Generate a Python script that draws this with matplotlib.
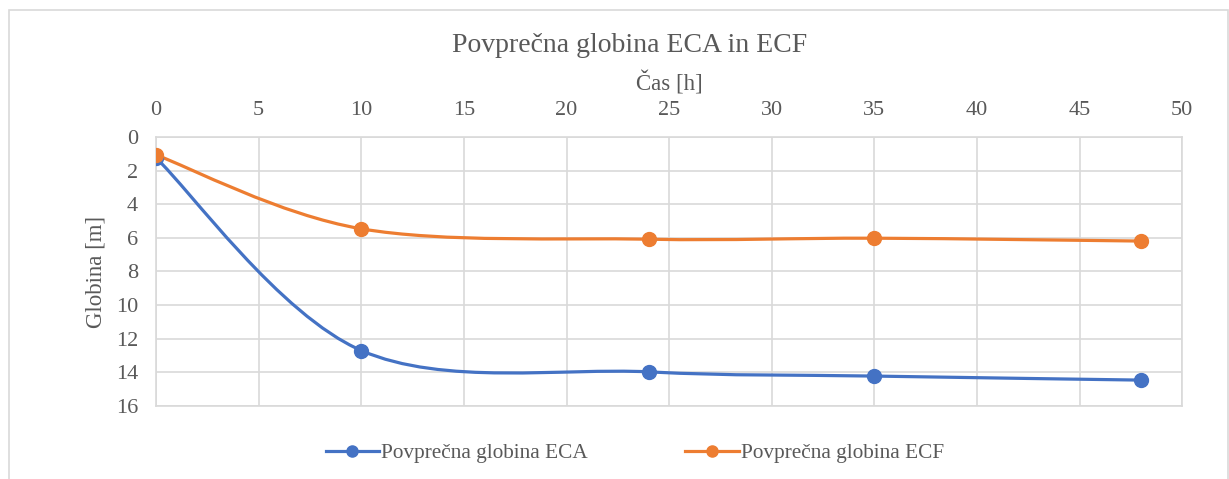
import numpy as np
import matplotlib
matplotlib.use("Agg")
import matplotlib.pyplot as plt
from matplotlib.path import Path
from matplotlib.patches import PathPatch, Rectangle
from matplotlib.lines import Line2D

plt.rcParams['font.family'] = ['Liberation Serif', 'DejaVu Serif']

# data
hours = [0, 10, 24, 35, 48]
eca_depth = [1.25, 12.7, 13.97, 14.22, 14.46]
ecf_depth = [1.07, 5.46, 6.08, 6.02, 6.19]
x_ticks = [0, 5, 10, 15, 20, 25, 30, 35, 40, 45, 50]
y_ticks = [0, 2, 4, 6, 8, 10, 12, 14, 16]

blue = '#4472C4'
orange = '#ED7D31'
grey_txt = '#595959'
grid_col = '#D9D9D9'


def smooth_path(xs, ys):
    # Excel-like smoothed line: cubic bezier segments with catmull-rom tangents
    pts = np.column_stack([xs, ys]).astype(float)
    n = len(pts)
    verts = [pts[0]]
    codes = [Path.MOVETO]
    for i in range(n - 1):
        p0 = pts[i - 1] if i > 0 else pts[i]
        p1 = pts[i]
        p2 = pts[i + 1]
        p3 = pts[i + 2] if i + 2 < n else pts[i + 1]
        c1 = p1 + (p2 - p0) / 6.0
        c2 = p2 - (p3 - p1) / 6.0
        verts += [c1, c2, p2]
        codes += [Path.CURVE4] * 3
    return Path(verts, codes)


fig = plt.figure(figsize=(12.29, 4.79), dpi=100)
ax = fig.add_axes([0.127, 0.1524, 0.8349, 0.5616])

for ys, col in [(eca_depth, blue), (ecf_depth, orange)]:
    ax.add_patch(PathPatch(smooth_path(hours, ys), facecolor='none',
                           edgecolor=col, lw=2.3, capstyle='round', zorder=3))
    ax.plot(hours, ys, linestyle='none', marker='o', ms=10, color=col, zorder=4)

ax.set_xlim(0, 50)
ax.set_ylim(16, 0)
ax.set_xticks(x_ticks)
ax.set_yticks(y_ticks)
ax.xaxis.tick_top()
ax.xaxis.set_label_position('top')
ax.tick_params(length=0, labelsize=16, labelcolor=grey_txt)
ax.tick_params(axis='x', pad=12)
ax.tick_params(axis='y', pad=13)
ax.grid(True, color=grid_col, lw=1.2)
ax.set_axisbelow(True)
for s in ax.spines.values():
    s.set_color(grid_col)
    s.set_linewidth(1.2)

ax.set_xlabel('Čas [h]', fontsize=16.5, color=grey_txt, labelpad=8)
ax.set_ylabel('Globina [m]', fontsize=16.5, color=grey_txt, labelpad=7)
fig.text(0.5126, 0.905, 'Povprečna globina ECA in ECF', ha='center', va='center',
         fontsize=20, color=grey_txt)

handles = [Line2D([], [], color=blue, lw=2.3, marker='o', ms=8),
           Line2D([], [], color=orange, lw=2.3, marker='o', ms=8)]
fig.legend(handles, ['Povprečna globina ECA', 'Povprečna globina ECF'],
           loc='center', bbox_to_anchor=(0.5165, 0.054), ncol=2, frameon=False,
           fontsize=15.3, labelcolor=grey_txt, handlelength=2.5, handletextpad=0.1,
           columnspacing=4.6)

# chart border
fig.patches.append(Rectangle((9 / 1229, -0.1), 1219 / 1229, 1.1 - 10 / 479,
                             transform=fig.transFigure, fill=False,
                             edgecolor=grid_col, lw=1.2))

fig.savefig('out.png', dpi=100)
